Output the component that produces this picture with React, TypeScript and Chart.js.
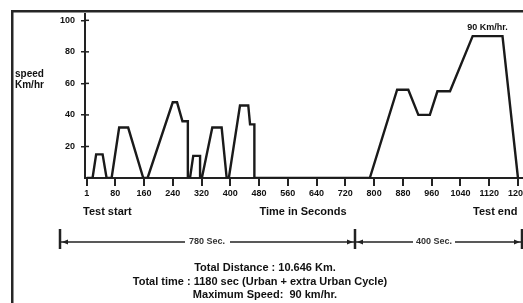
import { useEffect, useRef } from "react";
import { Chart, registerables } from "chart.js";

Chart.register(...registerables);

// Drive-cycle trace (time in seconds, speed in km/h)
const timeSec = [1, 17, 27, 45, 56, 70, 91, 116, 158, 170, 240, 252, 267, 282, 282, 288, 297, 316, 316, 321, 350, 376, 390, 396, 427, 450, 455, 467, 467, 788, 864, 895, 923, 955, 976, 1011, 1074, 1157, 1200];
const speedKmh = [0, 0, 15, 15, 0, 0, 32, 32, 0, 0, 48, 48, 36, 36, 0, 0, 14, 14, 0, 0, 32, 32, 0, 0, 46, 46, 34, 34, 0, 0, 56, 56, 40, 40, 55, 55, 90, 90, 0];
const xTickValues = [1, 80, 160, 240, 320, 400, 480, 560, 640, 720, 800, 880, 960, 1040, 1120, 1200];
const yTickValues = [20, 40, 60, 80, 100];
const yTitleLines = ["speed", "Km/hr"];
const peakLabel = "90 Km/hr.";
const peakLabelTime = 1115;
const peakLabelSpeed = 90;
const axisNotes = ["Test start", "Time in Seconds", "Test end"];
const phaseLabels = ["780 Sec.", "400 Sec."];
const summaryLines = [
  "Total Distance : 10.646 Km.",
  "Total time : 1180 sec (Urban + extra Urban Cycle)",
  "Maximum Speed:  90 km/hr.",
];

const FONT = '"Liberation Sans", Arial, sans-serif';

const annotPlugin = {
  id: "annot",
  afterDraw(chart: any) {
    const ctx = chart.ctx as CanvasRenderingContext2D;
    const xs = chart.scales.x;
    const ys = chart.scales.y;
    const left = chart.chartArea.left;
    ctx.save();
    // frame of the picture
    ctx.fillStyle = "#262626";
    ctx.fillRect(11, 10, 512, 2.5);
    ctx.fillRect(11, 10, 2.5, 293);

    // inner half of the y tick crosses
    ctx.strokeStyle = "#222";
    ctx.lineWidth = 1.5;
    yTickValues.forEach((v) => {
      const p = ys.getPixelForValue(v);
      ctx.beginPath();
      ctx.moveTo(left, p);
      ctx.lineTo(left + 4, p);
      ctx.stroke();
    });

    ctx.fillStyle = "#111";
    ctx.textBaseline = "middle";
    ctx.font = `bold 10px ${FONT}`;
    ctx.textAlign = "left";
    ctx.fillText(yTitleLines[0], 15, 74);
    ctx.fillText(yTitleLines[1], 15, 85);

    ctx.font = `bold 9px ${FONT}`;
    ctx.textAlign = "center";
    ctx.fillText(peakLabel, xs.getPixelForValue(peakLabelTime), ys.getPixelForValue(peakLabelSpeed) - 9);

    ctx.font = `bold 11px ${FONT}`;
    ctx.textAlign = "left";
    ctx.fillText(axisNotes[0], 83, 212);
    ctx.fillText(axisNotes[2], 473, 212);
    ctx.textAlign = "center";
    ctx.fillText(axisNotes[1], 303, 212);

    // dimension lines
    const dy = 242;
    ctx.fillStyle = "#222";
    [60, 355, 522].forEach((bx) => ctx.fillRect(bx - 1.25, 229, 2.5, 20));
    ctx.strokeStyle = "#222";
    ctx.lineWidth = 1.5;
    [[61, 185], [230, 354], [356, 413], [455, 521]].forEach(([a, b]) => {
      ctx.beginPath();
      ctx.moveTo(a, dy);
      ctx.lineTo(b, dy);
      ctx.stroke();
    });
    const arrow = (tip: number, dir: number) => {
      ctx.beginPath();
      ctx.moveTo(tip, dy);
      ctx.lineTo(tip - dir * 6, dy - 2.5);
      ctx.lineTo(tip - dir * 6, dy + 2.5);
      ctx.closePath();
      ctx.fill();
    };
    arrow(62, -1);
    arrow(353, 1);
    arrow(357, -1);
    arrow(520, 1);
    ctx.fillStyle = "#333";
    ctx.font = `bold 9px ${FONT}`;
    ctx.textAlign = "center";
    ctx.fillText(phaseLabels[0], 207, dy);
    ctx.fillText(phaseLabels[1], 434, dy);

    ctx.fillStyle = "#111";
    ctx.font = `bold 11px ${FONT}`;
    ctx.fillText(summaryLines[0], 265, 268);
    ctx.fillText(summaryLines[1], 260, 282);
    ctx.fillText(summaryLines[2], 265, 295);
    ctx.restore();
  },
};

export default function App() {
  const ref = useRef<HTMLCanvasElement>(null);
  useEffect(() => {
    if (!ref.current) return;
    const chart = new Chart(ref.current, {
      type: "line",
      data: {
        datasets: [
          {
            data: timeSec.map((t, i) => ({ x: t, y: speedKmh[i] })),
            borderColor: "#1a1a1a",
            borderWidth: 2.4,
            pointRadius: 0,
            tension: 0,
            fill: false,
          },
        ],
      },
      options: {
        responsive: false,
        animation: false,
        devicePixelRatio: 1,
        layout: { padding: { top: 14, left: 0, right: 0, bottom: 0 } },
        plugins: { legend: { display: false }, tooltip: { enabled: false } },
        scales: {
          x: {
            type: "linear",
            min: -4,
            max: 1214,
            afterBuildTicks: (s: any) => {
              s.ticks = xTickValues.map((v) => ({ value: v }));
            },
            afterFit: (s: any) => {
              s.height = 125;
              s.paddingLeft = 0;
              s.paddingRight = 0;
            },
            ticks: {
              autoSkip: false,
              maxRotation: 0,
              padding: 2,
              color: "#111",
              font: { size: 9, weight: "bold", family: FONT },
              callback: (v: any) => String(v),
            },
            grid: { drawOnChartArea: false, drawTicks: true, tickLength: 8, color: "#222", lineWidth: 2 },
            border: { display: true, color: "#222", width: 2 },
          },
          y: {
            type: "linear",
            min: 0,
            max: 104,
            afterBuildTicks: (s: any) => {
              s.ticks = yTickValues.map((v) => ({ value: v }));
            },
            afterFit: (s: any) => {
              s.width = 85;
              s.paddingTop = 0;
              s.paddingBottom = 0;
            },
            ticks: {
              padding: 6,
              color: "#111",
              font: { size: 9, weight: "bold", family: FONT },
              callback: (v: any) => String(v),
            },
            grid: { drawOnChartArea: false, drawTicks: true, tickLength: 4, color: "#222", lineWidth: 1.5 },
            border: { display: true, color: "#222", width: 2 },
          },
        },
      } as any,
      plugins: [annotPlugin],
    });
    return () => chart.destroy();
  }, []);
  return (
    <div style={{ position: "fixed", left: 0, top: 0, width: 523, height: 303, background: "#fff" }}>
      <canvas ref={ref} width={523} height={303} style={{ display: "block" }} />
    </div>
  );
}
